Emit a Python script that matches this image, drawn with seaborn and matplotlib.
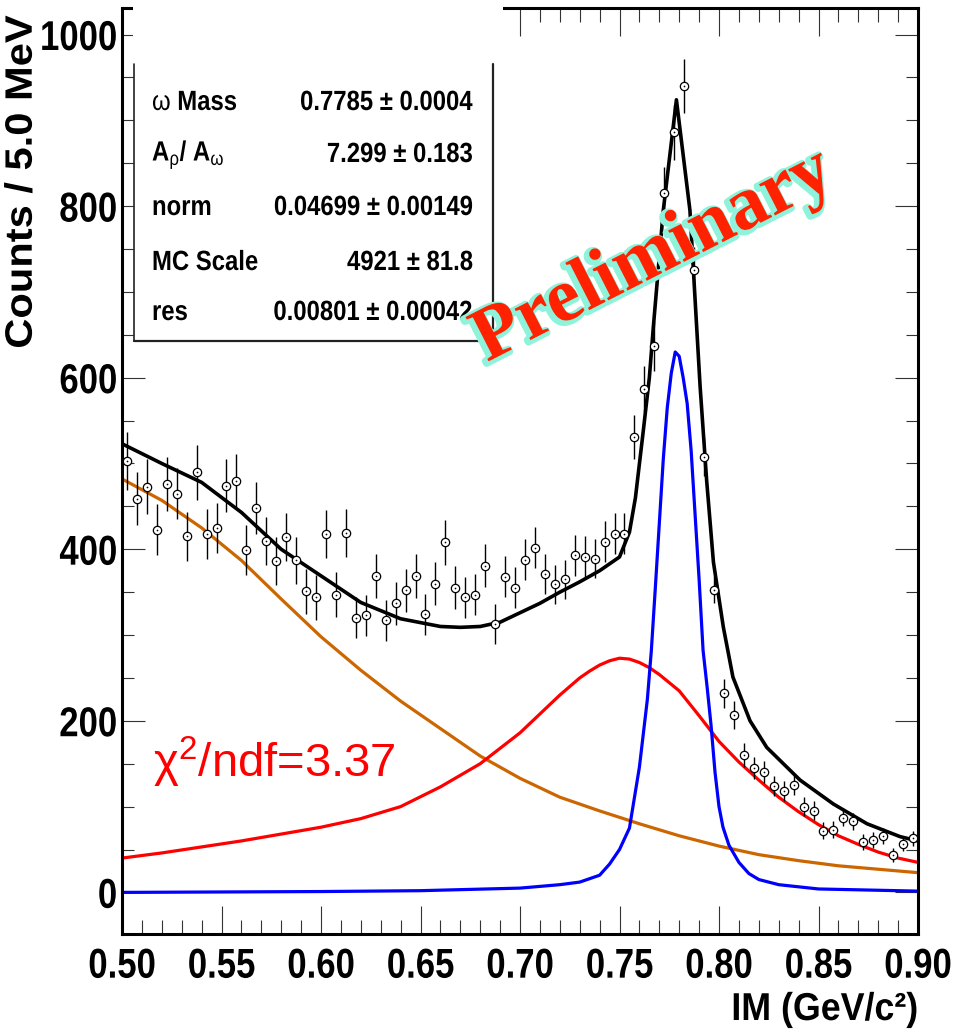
import numpy as np
import matplotlib
matplotlib.use("Agg")
import matplotlib.pyplot as plt
import seaborn as sns
from matplotlib import patheffects as pe
from matplotlib.lines import Line2D
from matplotlib.patches import Rectangle
from matplotlib.transforms import Affine2D
from matplotlib.ticker import MultipleLocator, FormatStrFormatter

# ---------------- data ----------------
bin_low, bin_width, n_bins = 0.50, 0.005, 80
bin_centers = bin_low + bin_width * (np.arange(n_bins) + 0.5)

counts = [503, 459, 473, 423, 476, 465, 415, 490, 418, 425,
          474, 480, 399, 448, 410, 386, 414, 387, 351, 344,
          418, 347, 419, 320, 323, 369, 317, 337, 352, 369,
          324, 360, 408, 355, 344, 347, 381, 313, 368, 355,
          388, 402, 371, 359, 365, 393, 391, 389, 409, 418,
          418, 531, 587, 637, 815, 886, 940, 725, 508, 353,
          232, 207, 160, 145, 140, 124, 118, 125, 100, 95,
          72, 73, 87, 83, 59, 61, 66, 44, 56, 63]
errors = [34, 31, 32, 30, 31, 30, 29, 32, 29, 29,
          31, 31, 29, 30, 28, 28, 28, 27, 26, 26,
          28, 26, 28, 24, 24, 26, 24, 25, 25, 26,
          24, 25, 26, 25, 24, 24, 25, 23, 24, 24,
          24, 24, 23, 23, 23, 24, 24, 23, 24, 24,
          24, 26, 27, 29, 31, 32, 31, 27, 22, 16,
          17, 16, 14, 13, 13, 12, 12, 12, 11, 11,
          10, 10, 10, 10, 9, 9, 9, 8, 8, 9]

bkg_x = [0.50, 0.52, 0.54, 0.56, 0.58, 0.60, 0.62, 0.64, 0.66, 0.68, 0.70,
         0.72, 0.74, 0.76, 0.78, 0.80, 0.82, 0.84, 0.86, 0.88, 0.90]
bkg_y = [482, 457, 425, 387, 342, 298, 259, 223, 191, 159, 133,
         111, 95, 80, 66, 54, 44, 37, 31, 27, 23]

rho_x = [0.50, 0.52, 0.54, 0.56, 0.58, 0.60, 0.62, 0.64, 0.66, 0.68, 0.70,
         0.71, 0.72, 0.73, 0.735, 0.74, 0.745, 0.75, 0.755, 0.76, 0.765, 0.77,
         0.78, 0.79, 0.80, 0.81, 0.82, 0.83, 0.84, 0.85, 0.86, 0.87, 0.88, 0.89, 0.90]
rho_y = [40, 46, 53, 60, 68, 76, 86, 100, 123, 150, 186,
         208, 230, 250, 258, 265, 270, 273, 272, 268, 262, 254,
         235, 206, 176, 152, 131, 111, 94, 79, 66, 56, 47, 40, 35]

omega_x = [0.50, 0.55, 0.60, 0.65, 0.70, 0.72, 0.73, 0.74, 0.745, 0.75, 0.755,
           0.76, 0.764, 0.766, 0.768, 0.770, 0.772, 0.774, 0.776, 0.778, 0.780,
           0.782, 0.784, 0.786, 0.788, 0.790, 0.792, 0.794, 0.796, 0.798, 0.800,
           0.802, 0.805, 0.810, 0.815, 0.820, 0.830, 0.850, 0.870, 0.900]
omega_y = [0, 0.5, 1, 2, 5, 9, 12, 20, 33, 50, 75,
           146, 225, 282, 355, 430, 505, 565, 605, 630, 625,
           600, 570, 515, 440, 365, 282, 240, 195, 140, 100,
           76, 55, 35, 22, 15, 9, 4, 3, 1.5]

total_x = [0.50, 0.52, 0.54, 0.56, 0.58, 0.60, 0.62, 0.64, 0.66, 0.67, 0.68,
           0.69, 0.70, 0.71, 0.72, 0.73, 0.74, 0.75, 0.755, 0.758, 0.762,
           0.765, 0.767, 0.772, 0.7786, 0.7854, 0.7905, 0.7938, 0.7972, 0.8022,
           0.807, 0.8156, 0.824, 0.8407, 0.8575, 0.8744, 0.891, 0.90]
total_y = [523, 500, 478, 443, 400, 369, 338, 319, 310, 309, 310,
           315, 326, 337, 350, 362, 375, 391, 420, 460, 539,
           600, 659, 795, 924, 795, 590, 480, 385, 309,
           251, 200, 169, 131, 103, 80, 65, 60]

stat_names = [r"$\mathrm{\omega}$ Mass", r"A$_{\mathrm{\rho}}$/ A$_{\mathrm{\omega}}$",
              "norm", "MC Scale", "res"]
stat_values = ["0.7785 ± 0.0004", "7.299 ± 0.183", "0.04699 ± 0.00149",
               "4921 ± 81.8", "0.00801 ± 0.00042"]

x_ticks = [0.50, 0.55, 0.60, 0.65, 0.70, 0.75, 0.80, 0.85, 0.90]
y_ticks = [0, 200, 400, 600, 800, 1000]


# ---------------- helpers ----------------
class Condense(pe.AbstractPathEffect):
    """Draw text glyphs with a horizontal/vertical stretch (narrow-font look)."""

    def __init__(self, sx=1.0, sy=1.0, ha="left"):
        super().__init__()
        self.sx, self.sy, self.ha = sx, sy, ha

    def draw_path(self, renderer, gc, tpath, affine, rgbFace=None):
        ext = tpath.get_extents()
        if self.ha == "right":
            px = ext.x1
        elif self.ha == "center":
            px = 0.5 * (ext.x0 + ext.x1)
        else:
            px = 0.0
        py = 0.5 * (ext.y0 + ext.y1)
        t = (Affine2D().translate(-px, -py).scale(self.sx, self.sy).translate(px, py)
             + affine)
        renderer.draw_path(gc, tpath, t, rgbFace)


# ---------------- style ----------------
sns.set_theme(style="ticks")
plt.rcParams["font.family"] = ["Liberation Sans", "DejaVu Sans"]
plt.rcParams["font.weight"] = "bold"
plt.rcParams["mathtext.fontset"] = "custom"
plt.rcParams["mathtext.rm"] = "Liberation Sans:weight=normal"
plt.rcParams["mathtext.it"] = "Liberation Sans:italic:weight=normal"
plt.rcParams["mathtext.bf"] = "Liberation Sans:bold"

W, H = 958, 1035
fig = plt.figure(figsize=(W / 100, H / 100), dpi=100)
fig.patch.set_facecolor("white")
L, R, T, B = 122, 918, 8, 934
ax = fig.add_axes([L / W, 1 - B / H, (R - L) / W, (B - T) / H])
ax.set_facecolor("white")


def fx(px):
    return px / W


def fy(py):
    return 1 - py / H


# curves
sns.lineplot(x=bkg_x, y=bkg_y, color="#cc6600", lw=2.3, ax=ax, estimator=None, sort=False, zorder=2)
sns.lineplot(x=rho_x, y=rho_y, color="#ff0000", lw=2.3, ax=ax, estimator=None, sort=False, zorder=2)
sns.lineplot(x=omega_x, y=omega_y, color="#0000ff", lw=2.3, ax=ax, estimator=None, sort=False, zorder=2)
sns.lineplot(x=total_x, y=total_y, color="black", lw=2.6, ax=ax, estimator=None, sort=False, zorder=2)

# data points
ax.errorbar(bin_centers, counts, yerr=errors, fmt="none", ecolor="black",
            elinewidth=1.0, capsize=0, zorder=3)
sns.scatterplot(x=bin_centers, y=counts, marker="o", s=36, facecolor="white",
                edgecolor="black", linewidth=0.9, ax=ax, zorder=4, legend=False)
sns.scatterplot(x=bin_centers, y=counts, marker="o", s=1.5, color="black",
                linewidth=0, ax=ax, zorder=5, legend=False)

# axes
ax.set_xlim(0.50, 0.90)
ax.set_ylim(-48.5, 1031)
ax.set_xticks(x_ticks)
ax.set_yticks(y_ticks)
ax.xaxis.set_minor_locator(MultipleLocator(0.01))
ax.yaxis.set_minor_locator(MultipleLocator(50))
ax.xaxis.set_major_formatter(FormatStrFormatter("%.2f"))
ax.yaxis.set_major_formatter(FormatStrFormatter("%d"))
ax.set_xlabel("")
ax.set_ylabel("")
for s in ax.spines.values():
    s.set_linewidth(2.2)
    s.set_color("black")
tick_col = "#333333"
ax.tick_params(axis="x", which="major", direction="in", length=20, width=0.8,
               color=tick_col, top=True, bottom=True, pad=11, labelsize=25)
ax.tick_params(axis="x", which="minor", direction="in", length=10, width=0.8,
               color=tick_col, top=True, bottom=True)
ax.tick_params(axis="y", which="major", direction="in", length=16.5, width=0.8,
               color=tick_col, left=True, right=True, pad=3.5, labelsize=25)
ax.tick_params(axis="y", which="minor", direction="in", length=8.6, width=0.8,
               color=tick_col, left=True, right=True)
for lab in ax.get_xticklabels():
    lab.set_fontweight("bold")
    lab.set_color("black")
    lab.set_path_effects([Condense(1.0, 1.2, "center")])
for lab in ax.get_yticklabels():
    lab.set_fontweight("bold")
    lab.set_color("black")
    lab.set_path_effects([Condense(1.0, 1.2, "right")])

# axis titles
fig.text(fx(21), fy(182), "Counts / 5.0 MeV", rotation=90, ha="center", va="center",
         fontsize=25, fontweight="bold", color="black",
         path_effects=[Condense(1.2, 1.1, "center")])
fig.text(fx(918), fy(1010), "IM (GeV/c²)", ha="right", va="center",
         fontsize=28, fontweight="bold", color="black",
         path_effects=[Condense(0.92, 1.0, "right")])

# stats box
fig.add_artist(Rectangle((fx(133), fy(64)), (503 - 133) / W, 64 / H + 0.01,
                         transform=fig.transFigure, facecolor="white", edgecolor="none", zorder=10))
fig.add_artist(Rectangle((fx(134), fy(341)), (493 - 134) / W, (341 - 64) / H,
                         transform=fig.transFigure, facecolor="white", edgecolor="none", zorder=10))
for (xa, ya, xb, yb, lw) in [(134, 64, 134, 341, 1.2), (134, 341, 493, 341, 1.6), (493, 64, 493, 341, 1.6)]:
    fig.add_artist(Line2D([fx(xa), fx(xb)], [fy(ya), fy(yb)], transform=fig.transFigure,
                          color="#222222", lw=lw, zorder=11))
rows = [103, 155, 208, 263, 313]
for name, val, ry in zip(stat_names, stat_values, rows):
    fig.text(fx(152), fy(ry), name, ha="left", va="center", fontsize=20,
             fontweight="bold", color="black", zorder=12,
             path_effects=[Condense(0.86, 1.0, "left")])
    fig.text(fx(473), fy(ry), val, ha="right", va="center", fontsize=20,
             fontweight="bold", color="black", zorder=12,
             path_effects=[Condense(0.86, 1.0, "right")])

# chi2 text
fig.text(fx(153), fy(777), "χ$^{2}$/ndf=3.37", ha="left", va="baseline", fontsize=34,
         fontweight="normal", color="#ff0000", zorder=12)

# Preliminary watermark
fig.text(fx(662), fy(273), "Preliminary", rotation=27, rotation_mode="anchor",
         ha="center", va="baseline", fontsize=55, fontweight="bold",
         family=["Liberation Serif", "DejaVu Serif"], color="#ff2200", zorder=13,
         path_effects=[pe.Stroke(linewidth=5, foreground="#8ff2da", offset=(-1.5, -1.5)), pe.Normal()])

fig.savefig("out.png", dpi=100, facecolor="white")
